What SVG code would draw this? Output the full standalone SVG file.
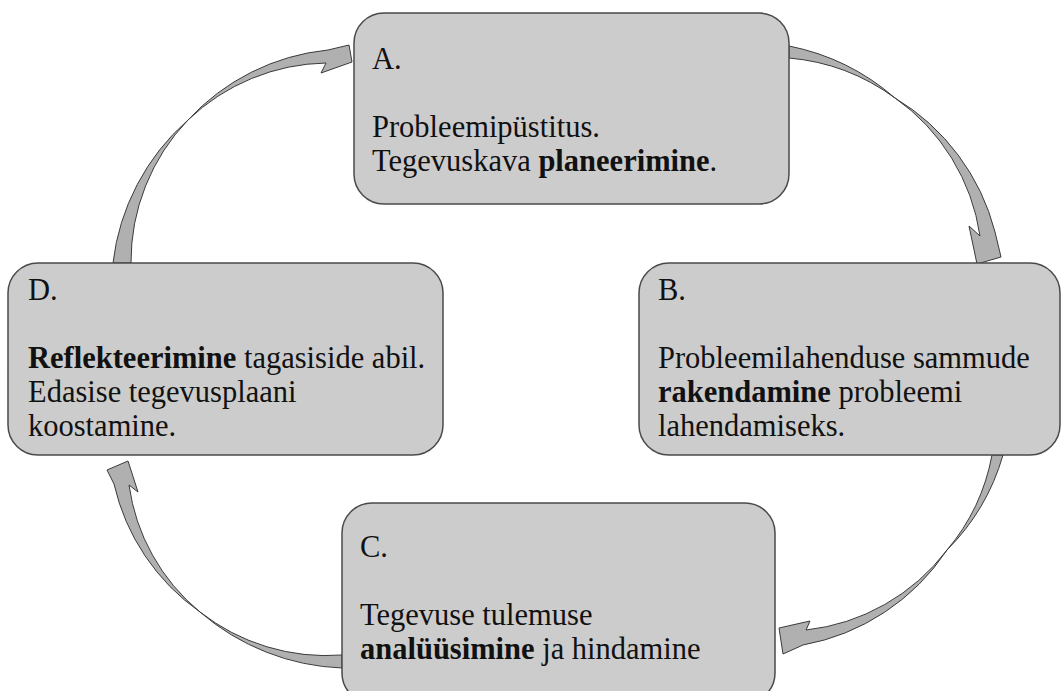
<svg xmlns="http://www.w3.org/2000/svg" width="1062" height="691" viewBox="0 0 1062 691">
<style>
.box{fill:#cccccc;stroke:#4a4a4a;stroke-width:1.5}
.arr{fill:#b0b0b0;stroke:#3a3a3a;stroke-width:1}
text{font-family:"Liberation Serif","Times New Roman",serif;font-size:30.5px;fill:#111}
.b{font-weight:bold}
</style>
<rect width="1062" height="691" fill="#ffffff"/>
<g id="connectors">
<path class="arr" d="M 113,263 A 225,225 0 0 1 188,120 A 220,220 0 0 1 328,50 L 349,45 L 352,62 L 321,73 L 326,63 A 205,205 0 0 0 188,120 A 205,205 0 0 0 131,263 Z"/>
<path class="arr" d="M 789,46 A 230,230 0 0 1 895,98 A 220,220 0 0 1 995,232 L 1001,257 L 977,264 L 969,226 L 980,236 A 205,205 0 0 0 895,98 A 210,210 0 0 0 789,58 Z"/>
<path class="arr" d="M 1003,455 A 220,220 0 0 1 947,550 A 220,220 0 0 1 803,645 L 783,654 L 779,628 L 810,621 L 806,630 A 205,205 0 0 0 947,550 A 205,205 0 0 0 992,455 Z"/>
<path class="arr" d="M 342,668 A 230,230 0 0 1 200,612 A 215,215 0 0 1 114,484 L 107,470 L 128,461 L 138,492 L 129,485 A 200,200 0 0 0 200,612 A 205,205 0 0 0 342,655 Z"/>
</g>
<g id="nodeA">
<rect class="box" x="354" y="13" width="435" height="191" rx="30"/>
<text x="372" y="69">A.</text>
<text x="372" y="137">Probleemipüstitus.</text>
<text x="372" y="171">Tegevuskava <tspan class="b">planeerimine</tspan>.</text>
</g>
<g id="nodeB">
<rect class="box" x="639" y="263" width="421" height="192" rx="30"/>
<text x="658" y="300">B.</text>
<text x="658" y="368">Probleemilahenduse sammude</text>
<text x="658" y="402"><tspan class="b">rakendamine</tspan> probleemi</text>
<text x="658" y="436">lahendamiseks.</text>
</g>
<g id="nodeD">
<rect class="box" x="8" y="263" width="435" height="192" rx="30"/>
<text x="28" y="300">D.</text>
<text x="28" y="368"><tspan class="b">Reflekteerimine</tspan> tagasiside abil.</text>
<text x="28" y="402">Edasise tegevusplaani</text>
<text x="28" y="436">koostamine.</text>
</g>
<g id="nodeC">
<rect class="box" x="342" y="503" width="433" height="200" rx="30"/>
<text x="360" y="557">C.</text>
<text x="360" y="625">Tegevuse tulemuse</text>
<text x="360" y="659"><tspan class="b">analüüsimine</tspan> ja hindamine</text>
</g>
</svg>
